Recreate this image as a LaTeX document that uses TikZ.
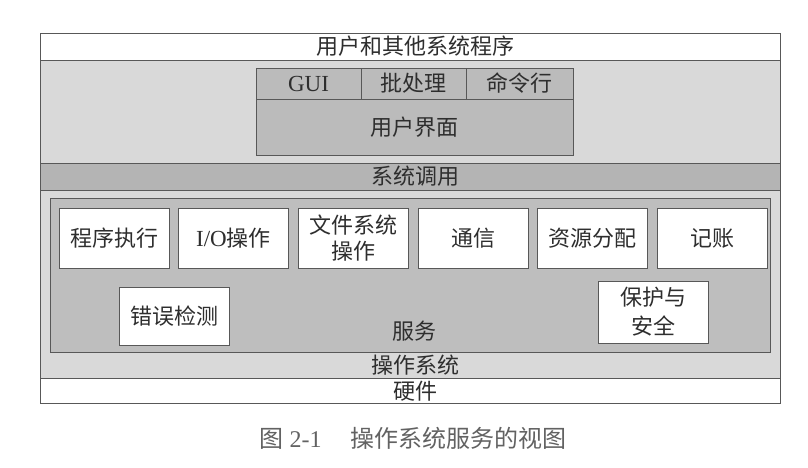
\documentclass[tikz,border=0pt]{standalone}
\usepackage{fontspec}
\setmainfont{Liberation Serif}
\newfontfamily\cjk{Noto Sans CJK SC}
\definecolor{ink}{HTML}{2E2E2E}
\definecolor{paleband}{HTML}{D9D9D9}
\definecolor{midband}{HTML}{B4B4B4}
\definecolor{svcgray}{HTML}{BEBEBE}
\definecolor{uigray}{HTML}{BBBBBB}
\begin{document}
\begin{tikzpicture}[x=1pt,y=-1pt,
  txt/.style={text=ink,font=\cjk\fontsize{22}{26}\selectfont,inner sep=0pt},
  frame/.style={draw=ink!80,line width=0.8pt},
  svc/.style={frame,fill=white,txt,minimum width=110pt,minimum height=60pt,align=center},
  uicell/.style={frame,fill=uigray,txt,minimum height=31pt}
]
\useasboundingbox (0,0) rectangle (808,468);

% layered bands of the system
\fill[white] (40,33) rectangle (780,60);
\fill[paleband] (40,60) rectangle (780,163);
\fill[midband] (40,163) rectangle (780,190);
\fill[paleband] (40,190) rectangle (780,378);
\fill[white] (40,378) rectangle (780,403);
\draw[frame] (40,60) -- (780,60);
\draw[frame] (40,163) -- (780,163);
\draw[frame] (40,190) -- (780,190);
\draw[frame] (40,378) -- (780,378);
\draw[frame] (40,33) rectangle (780,403);

\node[txt] (apps) at (415,46.5) {用户和其他系统程序};
\node[txt] (syscall) at (415,176.5) {系统调用};
\node[txt] (os) at (415,365) {操作系统};
\node[txt] (hw) at (415,391) {硬件};

% user interface block
\node[uicell,minimum width=105pt,font=\fontsize{23}{26}\selectfont] (gui) at (308.5,83.5) {GUI};
\node[uicell,minimum width=105pt] (batch) at (413.5,83.5) {批处理};
\node[uicell,minimum width=107pt] (cmd) at (519.5,83.5) {命令行};
\node[frame,fill=uigray,txt,minimum width=317pt,minimum height=56pt,anchor=north] (ui) at (414.5,99) {用户界面};

% services block
\node[frame,fill=svcgray,minimum width=720pt,minimum height=154pt,anchor=north west] (services) at (50,198) {};
\node[txt] (svclabel) at (414,331) {服务};

\node[svc] (exec) at (114,238) {程序执行};
\node[svc] (io) at (233.5,238) {{\rmfamily\fontsize{23}{26}\selectfont I/O}操作};
\node[svc,font=\cjk\fontsize{22}{26}\selectfont] (fs) at (353,238) {文件系统\\操作};
\node[svc] (comm) at (473,238) {通信};
\node[svc] (alloc) at (592,238) {资源分配};
\node[svc] (acct) at (712,238) {记账};
\node[svc,minimum height=58pt] (err) at (174,316) {错误检测};
\node[svc,minimum height=62pt,font=\cjk\fontsize{22}{29}\selectfont] (prot) at (653,312) {保护与\\安全};

% caption
\node[txt,font=\fontsize{24}{28}\selectfont,text=ink!75] (caption) at (413,438) {{\cjk 图} 2-1\hspace{1.2em}{\cjk 操作系统服务的视图}};
\end{tikzpicture}
\end{document}
